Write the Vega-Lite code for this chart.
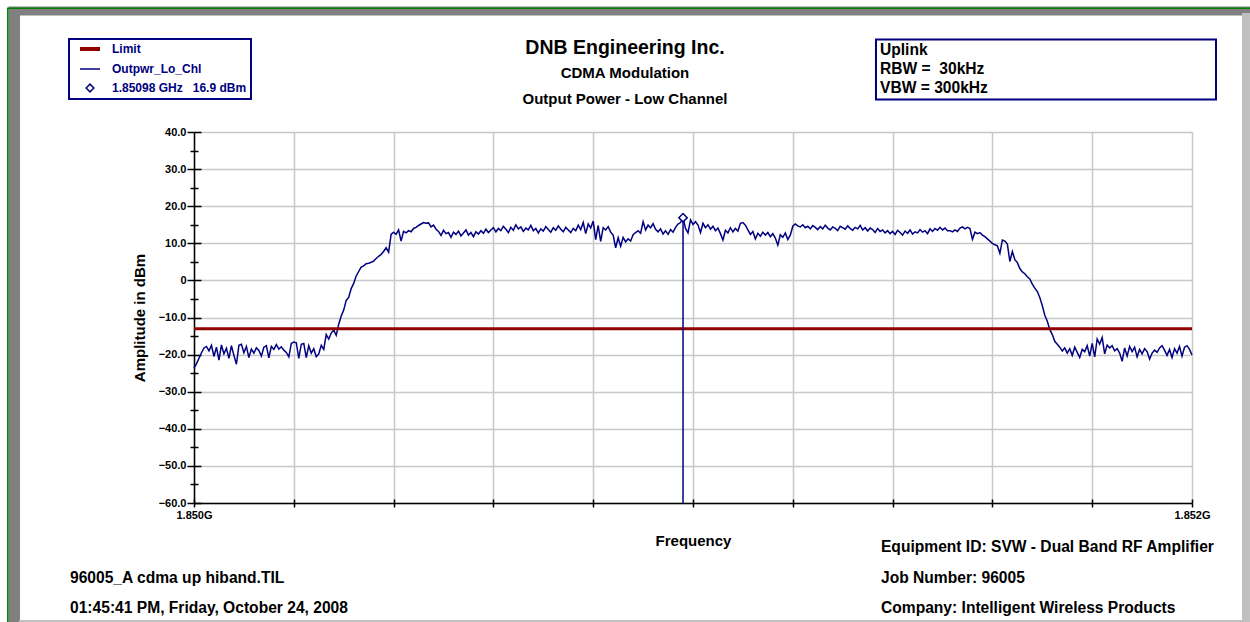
{
  "$schema": "https://vega.github.io/schema/vega-lite/v6.json",
  "width": 998,
  "height": 371,
  "autosize": {"type": "none"},
  "padding": {"left": 194, "top": 132, "right": 58, "bottom": 119},
  "background": "white",
  "config": {"view": {"stroke": null}, "font": "Liberation Sans"},
  "title": {
    "text": "DNB Engineering Inc.",
    "subtitle": ["CDMA Modulation", "Output Power - Low Channel"],
    "anchor": "middle", "frame": "group", "dx": -68, "offset": -101,
    "font": "Liberation Sans", "fontSize": 19.5, "fontWeight": "bold", "color": "black",
    "subtitleFont": "Liberation Sans", "subtitleFontSize": 15, "subtitleFontWeight": "bold",
    "subtitleColor": "black", "subtitleLineHeight": 26, "subtitlePadding": 7
  },
  "datasets": {
    "limit": [{"f": 1.85, "p": -13}, {"f": 1.852, "p": -13}],
    "marker": [{"f": 1.85098, "p": 16.9}],
    "trace": [
{"f":1.850000,"p":-23.6},{"f":1.850005,"p":-22.5},{"f":1.850010,"p":-21.0},{"f":1.850015,"p":-19.5},{"f":1.850020,"p":-18.2},
{"f":1.850025,"p":-17.8},{"f":1.850030,"p":-19.0},{"f":1.850035,"p":-17.5},{"f":1.850040,"p":-20.5},{"f":1.850045,"p":-18.0},
{"f":1.850050,"p":-21.5},{"f":1.850055,"p":-17.4},{"f":1.850060,"p":-19.8},{"f":1.850065,"p":-18.3},{"f":1.850070,"p":-21.0},
{"f":1.850075,"p":-17.6},{"f":1.850080,"p":-20.2},{"f":1.850085,"p":-22.6},{"f":1.850090,"p":-17.5},{"f":1.850095,"p":-17.2},
{"f":1.850100,"p":-19.5},{"f":1.850105,"p":-17.8},{"f":1.850110,"p":-20.8},{"f":1.850115,"p":-18.5},{"f":1.850120,"p":-19.6},
{"f":1.850125,"p":-18.2},{"f":1.850130,"p":-18.9},{"f":1.850135,"p":-20.4},{"f":1.850140,"p":-18.0},{"f":1.850145,"p":-17.6},
{"f":1.850150,"p":-20.9},{"f":1.850155,"p":-17.8},{"f":1.850160,"p":-18.6},{"f":1.850165,"p":-17.3},{"f":1.850170,"p":-18.5},
{"f":1.850175,"p":-17.9},{"f":1.850180,"p":-18.8},{"f":1.850185,"p":-19.4},{"f":1.850190,"p":-20.6},{"f":1.850195,"p":-17.0},
{"f":1.850200,"p":-16.6},{"f":1.850205,"p":-16.8},{"f":1.850210,"p":-21.0},{"f":1.850215,"p":-17.2},{"f":1.850220,"p":-17.0},
{"f":1.850225,"p":-20.8},{"f":1.850230,"p":-17.6},{"f":1.850235,"p":-19.6},{"f":1.850240,"p":-18.4},{"f":1.850245,"p":-20.6},
{"f":1.850250,"p":-19.8},{"f":1.850255,"p":-17.5},{"f":1.850260,"p":-18.6},{"f":1.850265,"p":-14.6},{"f":1.850270,"p":-15.8},
{"f":1.850275,"p":-14.2},{"f":1.850280,"p":-13.4},{"f":1.850285,"p":-14.8},{"f":1.850290,"p":-11.8},{"f":1.850295,"p":-9.6},
{"f":1.850300,"p":-8.0},{"f":1.850305,"p":-5.4},{"f":1.850310,"p":-4.6},{"f":1.850315,"p":-2.2},{"f":1.850320,"p":-0.8},
{"f":1.850325,"p":1.2},{"f":1.850330,"p":2.4},{"f":1.850335,"p":3.6},{"f":1.850340,"p":3.9},{"f":1.850345,"p":4.5},
{"f":1.850350,"p":4.6},{"f":1.850355,"p":4.9},{"f":1.850360,"p":5.2},{"f":1.850365,"p":5.9},{"f":1.850370,"p":6.5},
{"f":1.850375,"p":7.0},{"f":1.850380,"p":7.8},{"f":1.850385,"p":8.8},{"f":1.850390,"p":7.6},{"f":1.850395,"p":12.4},
{"f":1.850400,"p":13.0},{"f":1.850405,"p":12.4},{"f":1.850410,"p":13.6},{"f":1.850415,"p":10.6},{"f":1.850420,"p":13.2},
{"f":1.850425,"p":12.8},{"f":1.850430,"p":13.4},{"f":1.850435,"p":13.1},{"f":1.850440,"p":14.0},{"f":1.850445,"p":14.3},
{"f":1.850450,"p":14.8},{"f":1.850455,"p":15.2},{"f":1.850460,"p":15.6},{"f":1.850465,"p":15.4},{"f":1.850470,"p":15.5},
{"f":1.850475,"p":14.4},{"f":1.850480,"p":14.9},{"f":1.850485,"p":13.8},{"f":1.850490,"p":13.2},{"f":1.850495,"p":12.1},
{"f":1.850500,"p":13.5},{"f":1.850505,"p":12.6},{"f":1.850510,"p":12.9},{"f":1.850515,"p":11.6},{"f":1.850520,"p":13.0},
{"f":1.850525,"p":12.4},{"f":1.850530,"p":13.3},{"f":1.850535,"p":12.0},{"f":1.850540,"p":12.8},{"f":1.850545,"p":13.6},
{"f":1.850550,"p":12.2},{"f":1.850555,"p":12.9},{"f":1.850560,"p":11.8},{"f":1.850565,"p":13.1},{"f":1.850570,"p":12.5},
{"f":1.850575,"p":13.4},{"f":1.850580,"p":12.7},{"f":1.850585,"p":13.8},{"f":1.850590,"p":12.9},{"f":1.850595,"p":13.6},
{"f":1.850600,"p":14.2},{"f":1.850605,"p":13.1},{"f":1.850610,"p":14.0},{"f":1.850615,"p":13.4},{"f":1.850620,"p":14.6},
{"f":1.850625,"p":13.8},{"f":1.850630,"p":12.9},{"f":1.850635,"p":14.3},{"f":1.850640,"p":13.5},{"f":1.850645,"p":15.0},
{"f":1.850650,"p":13.9},{"f":1.850655,"p":14.4},{"f":1.850660,"p":13.2},{"f":1.850665,"p":14.1},{"f":1.850670,"p":13.6},
{"f":1.850675,"p":14.8},{"f":1.850680,"p":13.4},{"f":1.850685,"p":14.0},{"f":1.850690,"p":12.8},{"f":1.850695,"p":13.9},
{"f":1.850700,"p":13.3},{"f":1.850705,"p":14.5},{"f":1.850710,"p":13.7},{"f":1.850715,"p":13.0},{"f":1.850720,"p":14.2},
{"f":1.850725,"p":13.5},{"f":1.850730,"p":14.7},{"f":1.850735,"p":13.8},{"f":1.850740,"p":13.1},{"f":1.850745,"p":14.3},
{"f":1.850750,"p":13.6},{"f":1.850755,"p":12.9},{"f":1.850760,"p":14.0},{"f":1.850765,"p":13.4},{"f":1.850770,"p":14.9},
{"f":1.850775,"p":13.7},{"f":1.850780,"p":15.6},{"f":1.850785,"p":12.6},{"f":1.850790,"p":15.2},{"f":1.850795,"p":14.1},
{"f":1.850800,"p":16.0},{"f":1.850805,"p":11.0},{"f":1.850810,"p":14.8},{"f":1.850815,"p":10.5},{"f":1.850820,"p":14.2},
{"f":1.850825,"p":13.6},{"f":1.850830,"p":14.5},{"f":1.850835,"p":13.0},{"f":1.850840,"p":12.2},{"f":1.850845,"p":8.8},
{"f":1.850850,"p":11.5},{"f":1.850855,"p":9.2},{"f":1.850860,"p":11.6},{"f":1.850865,"p":10.4},{"f":1.850870,"p":11.2},
{"f":1.850875,"p":10.6},{"f":1.850880,"p":12.3},{"f":1.850885,"p":12.9},{"f":1.850890,"p":13.4},{"f":1.850895,"p":12.7},
{"f":1.850900,"p":15.8},{"f":1.850905,"p":13.6},{"f":1.850910,"p":14.9},{"f":1.850915,"p":14.2},{"f":1.850920,"p":15.3},
{"f":1.850925,"p":13.8},{"f":1.850930,"p":13.1},{"f":1.850935,"p":13.9},{"f":1.850940,"p":12.5},{"f":1.850945,"p":13.4},
{"f":1.850950,"p":12.4},{"f":1.850955,"p":13.7},{"f":1.850960,"p":13.0},{"f":1.850965,"p":14.3},{"f":1.850970,"p":15.2},
{"f":1.850975,"p":15.6},{"f":1.850980,"p":16.9},{"f":1.850985,"p":14.0},{"f":1.850990,"p":12.8},{"f":1.850995,"p":16.3},
{"f":1.851000,"p":15.1},{"f":1.851005,"p":15.8},{"f":1.851010,"p":14.9},{"f":1.851015,"p":12.9},{"f":1.851020,"p":15.4},
{"f":1.851025,"p":14.2},{"f":1.851030,"p":15.0},{"f":1.851035,"p":13.8},{"f":1.851040,"p":14.6},{"f":1.851045,"p":13.4},
{"f":1.851050,"p":14.1},{"f":1.851055,"p":12.6},{"f":1.851060,"p":10.9},{"f":1.851065,"p":13.5},{"f":1.851070,"p":12.8},
{"f":1.851075,"p":14.2},{"f":1.851080,"p":13.1},{"f":1.851085,"p":14.0},{"f":1.851090,"p":13.3},{"f":1.851095,"p":15.4},
{"f":1.851100,"p":15.6},{"f":1.851105,"p":14.9},{"f":1.851110,"p":13.6},{"f":1.851115,"p":12.4},{"f":1.851120,"p":13.2},
{"f":1.851125,"p":11.2},{"f":1.851130,"p":12.7},{"f":1.851135,"p":11.9},{"f":1.851140,"p":13.0},{"f":1.851145,"p":12.2},
{"f":1.851150,"p":12.9},{"f":1.851155,"p":11.8},{"f":1.851160,"p":12.6},{"f":1.851165,"p":11.4},{"f":1.851170,"p":9.5},
{"f":1.851175,"p":12.3},{"f":1.851180,"p":11.6},{"f":1.851185,"p":12.8},{"f":1.851190,"p":11.0},{"f":1.851195,"p":12.2},
{"f":1.851200,"p":14.6},{"f":1.851205,"p":15.2},{"f":1.851210,"p":14.7},{"f":1.851215,"p":14.4},{"f":1.851220,"p":15.0},
{"f":1.851225,"p":14.2},{"f":1.851230,"p":14.6},{"f":1.851235,"p":13.9},{"f":1.851240,"p":14.8},{"f":1.851245,"p":14.3},
{"f":1.851250,"p":13.7},{"f":1.851255,"p":14.5},{"f":1.851260,"p":13.9},{"f":1.851265,"p":14.9},{"f":1.851270,"p":14.1},
{"f":1.851275,"p":13.6},{"f":1.851280,"p":14.4},{"f":1.851285,"p":14.0},{"f":1.851290,"p":13.4},{"f":1.851295,"p":14.6},
{"f":1.851300,"p":14.2},{"f":1.851305,"p":13.8},{"f":1.851310,"p":14.7},{"f":1.851315,"p":14.0},{"f":1.851320,"p":13.5},
{"f":1.851325,"p":14.3},{"f":1.851330,"p":13.9},{"f":1.851335,"p":14.8},{"f":1.851340,"p":13.6},{"f":1.851345,"p":14.2},
{"f":1.851350,"p":13.3},{"f":1.851355,"p":14.1},{"f":1.851360,"p":13.7},{"f":1.851365,"p":12.9},{"f":1.851370,"p":14.0},
{"f":1.851375,"p":13.2},{"f":1.851380,"p":13.6},{"f":1.851385,"p":12.8},{"f":1.851390,"p":13.4},{"f":1.851395,"p":12.6},
{"f":1.851400,"p":13.2},{"f":1.851405,"p":12.4},{"f":1.851410,"p":13.5},{"f":1.851415,"p":12.9},{"f":1.851420,"p":12.2},
{"f":1.851425,"p":13.3},{"f":1.851430,"p":12.7},{"f":1.851435,"p":13.6},{"f":1.851440,"p":12.5},{"f":1.851445,"p":13.1},
{"f":1.851450,"p":12.8},{"f":1.851455,"p":13.7},{"f":1.851460,"p":13.0},{"f":1.851465,"p":13.4},{"f":1.851470,"p":12.6},
{"f":1.851475,"p":13.9},{"f":1.851480,"p":13.2},{"f":1.851485,"p":14.0},{"f":1.851490,"p":13.5},{"f":1.851495,"p":14.3},
{"f":1.851500,"p":13.6},{"f":1.851505,"p":14.1},{"f":1.851510,"p":13.4},{"f":1.851515,"p":13.4},{"f":1.851520,"p":13.1},
{"f":1.851525,"p":13.6},{"f":1.851530,"p":13.2},{"f":1.851535,"p":14.1},{"f":1.851540,"p":14.4},{"f":1.851545,"p":13.9},
{"f":1.851550,"p":14.3},{"f":1.851555,"p":14.0},{"f":1.851560,"p":11.1},{"f":1.851565,"p":13.0},{"f":1.851570,"p":12.6},
{"f":1.851575,"p":12.9},{"f":1.851580,"p":12.2},{"f":1.851585,"p":11.8},{"f":1.851590,"p":11.2},{"f":1.851595,"p":10.6},
{"f":1.851600,"p":10.0},{"f":1.851605,"p":9.6},{"f":1.851610,"p":9.3},{"f":1.851615,"p":7.3},{"f":1.851620,"p":10.9},
{"f":1.851625,"p":10.6},{"f":1.851630,"p":9.8},{"f":1.851635,"p":5.1},{"f":1.851640,"p":7.8},{"f":1.851645,"p":5.6},
{"f":1.851650,"p":4.8},{"f":1.851655,"p":3.2},{"f":1.851660,"p":2.3},{"f":1.851665,"p":1.8},{"f":1.851670,"p":1.0},
{"f":1.851675,"p":0.4},{"f":1.851680,"p":-1.0},{"f":1.851685,"p":-2.1},{"f":1.851690,"p":-3.0},{"f":1.851695,"p":-4.6},
{"f":1.851700,"p":-6.8},{"f":1.851705,"p":-9.4},{"f":1.851710,"p":-11.0},{"f":1.851715,"p":-13.2},{"f":1.851720,"p":-14.6},
{"f":1.851725,"p":-16.4},{"f":1.851730,"p":-17.2},{"f":1.851735,"p":-18.0},{"f":1.851740,"p":-19.0},{"f":1.851745,"p":-18.2},
{"f":1.851750,"p":-19.6},{"f":1.851755,"p":-18.4},{"f":1.851760,"p":-20.2},{"f":1.851765,"p":-18.0},{"f":1.851770,"p":-19.4},
{"f":1.851775,"p":-20.8},{"f":1.851780,"p":-18.6},{"f":1.851785,"p":-19.2},{"f":1.851790,"p":-17.6},{"f":1.851795,"p":-20.4},
{"f":1.851800,"p":-17.0},{"f":1.851805,"p":-20.6},{"f":1.851810,"p":-15.8},{"f":1.851815,"p":-17.2},{"f":1.851820,"p":-15.4},
{"f":1.851825,"p":-19.8},{"f":1.851830,"p":-17.4},{"f":1.851835,"p":-18.2},{"f":1.851840,"p":-17.6},{"f":1.851845,"p":-19.0},
{"f":1.851850,"p":-18.4},{"f":1.851855,"p":-19.6},{"f":1.851860,"p":-21.8},{"f":1.851865,"p":-18.2},{"f":1.851870,"p":-20.4},
{"f":1.851875,"p":-17.8},{"f":1.851880,"p":-19.2},{"f":1.851885,"p":-18.0},{"f":1.851890,"p":-20.6},{"f":1.851895,"p":-18.6},
{"f":1.851900,"p":-19.8},{"f":1.851905,"p":-18.4},{"f":1.851910,"p":-19.2},{"f":1.851915,"p":-21.2},{"f":1.851920,"p":-19.6},
{"f":1.851925,"p":-18.8},{"f":1.851930,"p":-19.4},{"f":1.851935,"p":-18.2},{"f":1.851940,"p":-17.6},{"f":1.851945,"p":-18.8},
{"f":1.851950,"p":-20.2},{"f":1.851955,"p":-18.6},{"f":1.851960,"p":-20.8},{"f":1.851965,"p":-18.4},{"f":1.851970,"p":-19.6},
{"f":1.851975,"p":-17.8},{"f":1.851980,"p":-20.4},{"f":1.851985,"p":-18.0},{"f":1.851990,"p":-17.6},{"f":1.851995,"p":-18.6},
{"f":1.852000,"p":-20.1}
    ]
  },
  "resolve": {"axis": {"x": "independent", "y": "independent"}},
  "layer": [
    {
      "data": {"values": [{}]},
      "mark": {"type": "rect", "filled": false, "color": "#808080", "strokeWidth": 9, "opacity": 1},
      "encoding": {
        "x": {"datum": 1.8496373, "type": "quantitative", "axis": null},
        "x2": {"datum": 1.8522164},
        "y": {"datum": 72.61, "type": "quantitative", "axis": null},
        "y2": {"datum": -113.10}
      }
    },
    {
      "data": {"values": [{}]},
      "mark": {"type": "rect", "filled": false, "color": "#808080", "strokeWidth": 6, "opacity": 1},
      "encoding": {
        "x": {"datum": 1.8496453, "type": "quantitative", "axis": null},
        "x2": {"datum": 1.8522164},
        "y": {"datum": 72.35, "type": "quantitative", "axis": null},
        "y2": {"datum": -113.10}
      }
    },
    {
      "data": {"values": [{}]},
      "mark": {"type": "rect", "filled": false, "color": "#c0c0c0", "strokeWidth": 9, "opacity": 1},
      "encoding": {
        "x": {"datum": 1.8521092, "type": "quantitative", "axis": null},
        "x2": {"datum": 1.8522164},
        "y": {"datum": 70.86, "type": "quantitative", "axis": null},
        "y2": {"datum": -113.10}
      }
    },
    {
      "data": {"values": [{}]},
      "mark": {"type": "rect", "filled": false, "color": "#c0c0c0", "strokeWidth": 2, "opacity": 1},
      "encoding": {
        "x": {"datum": 1.8496513, "type": "quantitative", "axis": null},
        "x2": {"datum": 1.8522164},
        "y": {"datum": -91.81, "type": "quantitative", "axis": null},
        "y2": {"datum": -113.10}
      }
    },
    {
      "data": {"values": [{}]},
      "mark": {"type": "rect", "filled": false, "color": "#008000", "strokeWidth": 1.6, "opacity": 1},
      "encoding": {
        "x": {"datum": 1.8496269, "type": "quantitative", "axis": null},
        "x2": {"datum": 1.8521362},
        "y": {"datum": 73.37, "type": "quantitative", "axis": null},
        "y2": {"datum": -94.23}
      }
    },
    {
      "data": {"values": [{}]},
      "mark": {"type": "rect", "fill": "white", "stroke": "#000080", "strokeWidth": 2},
      "encoding": {
        "x": {"datum": 1.8513667, "type": "quantitative", "axis": null},
        "x2": {"datum": 1.8520481},
        "y": {"datum": 64.93, "type": "quantitative", "axis": null},
        "y2": {"datum": 48.76}
      }
    },
    {
      "data": {"values": [{}]},
      "mark": {"type": "text", "align": "left", "baseline": "alphabetic", "font": "Liberation Sans", "fontSize": 15.6, "fontWeight": "bold", "color": "black", "lineHeight": 18.7},
      "encoding": {
        "x": {"datum": 1.8513747, "type": "quantitative", "axis": null},
        "y": {"datum": 60.67, "type": "quantitative", "axis": null},
        "text": {"value": ["Uplink", "RBW =\u00a0\u00a030kHz", "VBW = 300kHz"]}
      }
    },
    {
      "data": {"values": [{}]},
      "mark": {"type": "text", "align": "left", "baseline": "alphabetic", "font": "Liberation Sans", "fontSize": 15.6, "fontWeight": "bold", "color": "black", "lineHeight": 30.5},
      "encoding": {
        "x": {"datum": 1.8497515, "type": "quantitative", "axis": null},
        "y": {"datum": -81.43, "type": "quantitative", "axis": null},
        "text": {"value": ["96005_A cdma up hiband.TIL", "01:45:41 PM, Friday, October 24, 2008"]}
      }
    },
    {
      "data": {"values": [{}]},
      "mark": {"type": "text", "align": "left", "baseline": "alphabetic", "font": "Liberation Sans", "fontSize": 15.6, "fontWeight": "bold", "color": "black", "lineHeight": 30.5},
      "encoding": {
        "x": {"datum": 1.8513767, "type": "quantitative", "axis": null},
        "y": {"datum": -73.21, "type": "quantitative", "axis": null},
        "text": {"value": ["Equipment ID: SVW - Dual Band RF Amplifier", "Job Number: 96005", "Company: Intelligent Wireless Products"]}
      }
    },
    {
      "data": {"name": "trace"},
      "mark": {"type": "line", "strokeWidth": 1.5},
      "encoding": {
        "x": {
          "field": "f", "type": "quantitative",
          "scale": {"domain": [1.85, 1.852], "nice": false, "zero": false},
          "axis": {
            "orient": "bottom",
            "values": [1.85, 1.8502, 1.8504, 1.8506, 1.8508, 1.851, 1.8512, 1.8514, 1.8516, 1.8518, 1.852],
            "grid": true, "gridColor": "#c8c8c8", "gridWidth": 1.5,
            "domainColor": "black", "domainWidth": 1.5,
            "tickColor": "black", "tickWidth": 1.5, "tickSize": 4,
            "labelExpr": "datum.index === 0 || datum.index === 1 ? format(datum.value, '.3f') + 'G' : ''",
            "labelFlush": false, "labelOverlap": false,
            "labelFont": "Liberation Sans", "labelFontSize": 11, "labelFontWeight": "bold", "labelColor": "black", "labelPadding": 2,
            "title": "Frequency", "titleFont": "Liberation Sans", "titleFontSize": 15, "titleFontWeight": "bold", "titleColor": "black", "titlePadding": 13
          }
        },
        "y": {
          "field": "p", "type": "quantitative",
          "scale": {"domain": [-60, 40], "nice": false, "zero": false},
          "axis": {
            "orient": "left",
            "values": [-60, -55, -50, -45, -40, -35, -30, -25, -20, -15, -10, -5, 0, 5, 10, 15, 20, 25, 30, 35, 40],
            "grid": true, "gridColor": "#c8c8c8", "gridWidth": 1.5,
            "gridOpacity": {"condition": {"test": "datum.value % 10 !== 0", "value": 0}, "value": 1},
            "domainColor": "black", "domainWidth": 1.5,
            "tickColor": "black", "tickWidth": 1.5,
            "tickSize": {"condition": {"test": "datum.value % 10 !== 0", "value": 4}, "value": 7},
            "labelExpr": "datum.value % 10 !== 0 ? '' : (datum.value === 0 ? '0' : format(datum.value, '.1f'))",
            "labelOverlap": false,
            "labelFont": "Liberation Sans", "labelFontSize": 11, "labelFontWeight": "bold", "labelColor": "black", "labelPadding": 1,
            "title": "Amplitude in dBm", "titleFont": "Liberation Sans", "titleFontSize": 15, "titleFontWeight": "bold", "titleColor": "black", "titlePadding": 11
          }
        },
        "color": {
          "datum": "Outpwr_Lo_Chl", "type": "nominal",
          "scale": {"domain": ["Limit", "Outpwr_Lo_Chl", "1.85098 GHz\u00a0\u00a0\u00a016.9 dBm"], "range": ["#900000", "#000080", "#000080"]},
          "legend": {
            "orient": "none", "legendX": -125, "legendY": -93, "title": null,
            "padding": 4, "symbolOffset": 11, "symbolSize": 400, "symbolStrokeWidth": 1.5,
            "rowPadding": 6, "labelOffset": 16, "labelLimit": 400,
            "labelFont": "Liberation Sans", "labelFontSize": 12, "labelFontWeight": "bold", "labelColor": "#000080",
            "strokeColor": "#000080", "fillColor": "white",
            "encode": {
              "symbols": {"update": {
                "shape": {"signal": "datum.value === 'Limit' || datum.value === 'Outpwr_Lo_Chl' ? 'stroke' : 'diamond'"},
                "size": {"signal": "datum.value === 'Limit' || datum.value === 'Outpwr_Lo_Chl' ? 400 : 60"},
                "strokeWidth": {"signal": "datum.value === 'Limit' ? 4 : 1.5"},
                "fill": {"value": "white"}
              }},
              "legend": {"update": {"strokeWidth": {"value": 2}}}
            }
          }
        }
      }
    },
    {
      "data": {"name": "limit"},
      "mark": {"type": "line", "strokeWidth": 3},
      "encoding": {
        "x": {
          "field": "f", "type": "quantitative",
          "axis": {
            "orient": "bottom",
            "values": [1.85, 1.8502, 1.8504, 1.8506, 1.8508, 1.851, 1.8512, 1.8514, 1.8516, 1.8518, 1.852],
            "grid": false, "domain": false, "labels": false, "title": null,
            "tickColor": "black", "tickWidth": 1.5, "tickSize": -4
          }
        },
        "y": {
          "field": "p", "type": "quantitative",
          "axis": {
            "orient": "left",
            "values": [-60, -55, -50, -45, -40, -35, -30, -25, -20, -15, -10, -5, 0, 5, 10, 15, 20, 25, 30, 35, 40],
            "grid": false, "domain": false, "labels": false, "title": null,
            "tickColor": "black", "tickWidth": 1.5,
            "tickSize": {"condition": {"test": "datum.value % 10 !== 0", "value": -4}, "value": -7}
          }
        },
        "color": {"datum": "Limit", "type": "nominal"}
      }
    },
    {
      "data": {"name": "marker"},
      "mark": {"type": "rule", "color": "#000080", "strokeWidth": 1.5},
      "encoding": {
        "x": {"field": "f", "type": "quantitative", "axis": null},
        "y": {"field": "p", "type": "quantitative", "axis": null},
        "y2": {"datum": -60}
      }
    },
    {
      "data": {"name": "marker"},
      "mark": {"type": "point", "shape": "diamond", "filled": false, "fill": "white", "size": 70, "strokeWidth": 1.5, "opacity": 1},
      "encoding": {
        "x": {"field": "f", "type": "quantitative", "axis": null},
        "y": {"field": "p", "type": "quantitative", "axis": null},
        "color": {"datum": "1.85098 GHz\u00a0\u00a0\u00a016.9 dBm", "type": "nominal"}
      }
    }
  ]
}
